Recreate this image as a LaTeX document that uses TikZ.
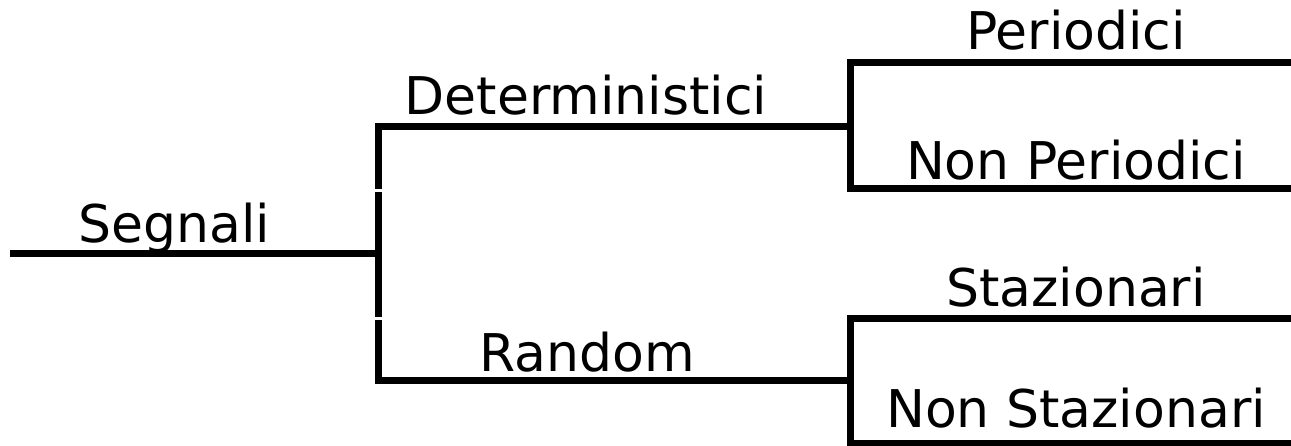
\documentclass[tikz,border=0pt]{standalone}
\usepackage{fontspec}
\setmainfont{DejaVu Sans}
\begin{document}
\begin{tikzpicture}[x=1pt,y=-1pt,
    branch/.style={line width=7pt,line join=miter},
    lab/.style={anchor=base,inner sep=0pt,font=\fontsize{52}{60}\selectfont}]
  \useasboundingbox (0,0) rectangle (1291,446);

  % Root: signals
  \coordinate (root) at (10,254);
  \coordinate (fork) at (378,254);
  \node[lab] (segnali) at (174,243) {Segnali};
  \draw[branch] (root) -- (fork);

  % First fork: deterministic / random (vertical bar in three pieces)
  \coordinate (det0) at (378,127);
  \coordinate (det1) at (850,127);
  \coordinate (rnd0) at (378,381);
  \coordinate (rnd1) at (850,381);
  \draw[branch] (det1) -- (det0) -- (378,189);
  \draw[branch] (378,192) -- (378,317);
  \draw[branch] (378,320) -- (rnd0) -- (rnd1);
  \node[lab] (det) at (586,115) {Deterministici};
  \node[lab] (rnd) at (587,372) {Random};

  % Second level forks
  \draw[branch] (1291,63) -- (850,63) -- (850,189) -- (1291,189);
  \draw[branch] (1291,319) -- (850,319) -- (850,443) -- (1291,443);

  % Leaf labels
  \foreach \name/\y/\txt in {per/50/Periodici,nonper/180/Non Periodici,
      staz/307/Stazionari,nonstaz/427/Non Stazionari}{
    \node[lab] (\name) at (1076,\y) {\txt};
  }
\end{tikzpicture}
\end{document}
